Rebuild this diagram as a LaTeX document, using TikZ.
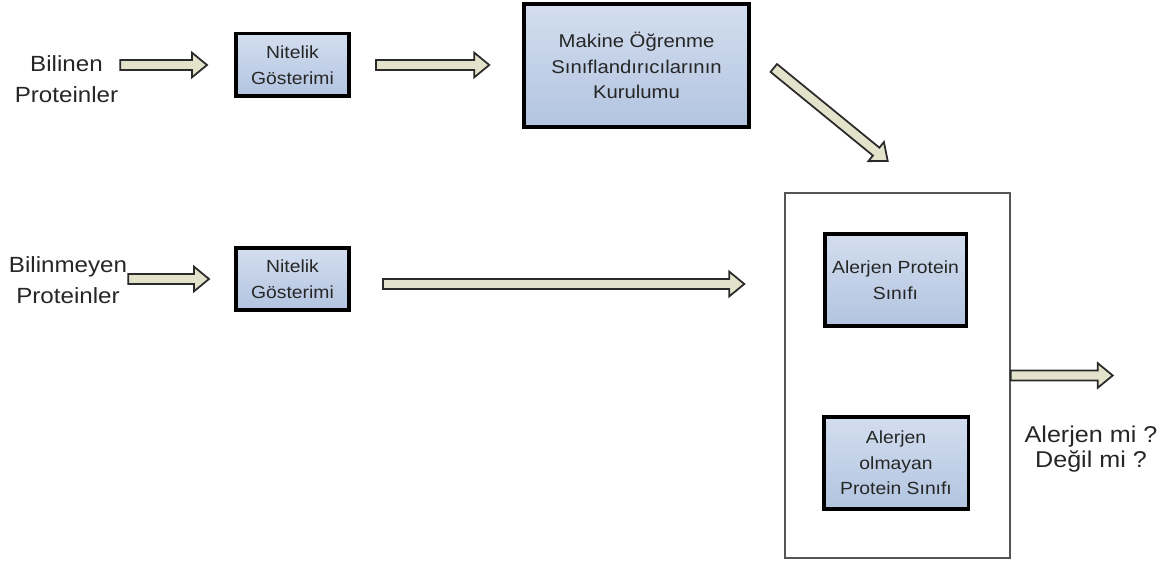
\documentclass[tikz,border=0pt]{standalone}
\usepackage{fontspec}
\setmainfont{Liberation Sans}[FakeStretch=1.1]
\usepackage{tikz}
\usetikzlibrary{arrows.meta, positioning, calc}

\definecolor{boxtop}{HTML}{D3DEEF}
\definecolor{boxbot}{HTML}{B2C4E0}
\definecolor{arrowfill}{HTML}{E3E3CC}
\definecolor{arrowline}{HTML}{2A2A2A}
\definecolor{frameline}{HTML}{555555}

\tikzset{
  stepbox/.style={draw=black, line width=2pt, top color=boxtop, bottom color=boxbot,
    align=center, inner sep=2pt, text=black!85, font=\fontsize{10}{14.5}\selectfont},
  sidelabel/.style={align=center, inner sep=1pt, text=black!85, font=\fontsize{12.5}{18}\selectfont},
  blockarrow/.style={draw=arrowline, fill=arrowfill, line width=1pt, line join=miter,
    to path={let \p1=(\tikztostart), \p2=(\tikztotarget),
      \n1={atan2(\y2-\y1,\x2-\x1)}, \n2={veclen(\x2-\x1,\y2-\y1)} in
      {[shift={(\p1)}, rotate=\n1]
        (0pt,-2.9pt) -- ({\n2*1pt-8.5pt},-2.9pt) -- ({\n2*1pt-8.5pt},-7pt) -- ({\n2*1pt},0pt)
        -- ({\n2*1pt-8.5pt},7pt) -- ({\n2*1pt-8.5pt},2.9pt) -- (0pt,2.9pt) -- cycle}}}
}

\begin{document}
\begin{tikzpicture}
\useasboundingbox (0,0) rectangle (23.5,-11.3);

% training row
\node[sidelabel] (known) at (1.33,-1.58) {Bilinen\\Proteinler};
\node[stepbox, minimum width=2.27cm, minimum height=1.25cm] (feat1) at (5.85,-1.3) {Nitelik\\Gösterimi};
\node[stepbox, minimum width=4.5cm, minimum height=2.46cm, font=\fontsize{10.5}{14.5}\selectfont]
  (train) at (12.73,-1.31) {Makine Öğrenme\\Sınıflandırıcılarının\\Kurulumu};

% test row
\node[sidelabel] (unknown) at (1.36,-5.6) {Bilinmeyen\\Proteinler};
\node[stepbox, minimum width=2.27cm, minimum height=1.25cm] (feat2) at (5.85,-5.58) {Nitelik\\Gösterimi};

% classifier
\node[draw=frameline, line width=0.8pt, minimum width=4.5cm, minimum height=7.3cm] (model) at (17.95,-7.51) {};
\node[stepbox, minimum width=2.83cm, minimum height=1.85cm] (allergen) at (17.91,-5.6) {Alerjen Protein\\Sınıfı};
\node[stepbox, minimum width=2.89cm, minimum height=1.85cm] (nonallergen) at (17.92,-9.26) {Alerjen\\olmayan\\Protein Sınıfı};
\node[align=center, text=black!85, font=\fontsize{13}{14.5}\selectfont] (answer) at (21.82,-8.98) {Alerjen mi ?\\Değil mi ?};
\coordinate (result) at ($(model.east)+(2.04,0)$);

\draw[blockarrow] (known.east |- feat1.west) to ([xshift=-0.54cm]feat1.west);
\draw[blockarrow] ([xshift=0.5cm]feat1.east) to ([xshift=-0.66cm]train.west |- feat1.east);
\draw[blockarrow] ([shift={(0.46cm,-0.05cm)}]train.east) to ([shift={(-0.19cm,0.62cm)}]model.north);
\draw[blockarrow] ([xshift=-0.02cm]unknown.east |- feat2.west) to ([xshift=-0.5cm]feat2.west);
\draw[blockarrow] ([shift={(0.64cm,-0.1cm)}]feat2.east) to ([shift={(-0.8cm,-0.1cm)}]model.west |- feat2.east);
\draw[blockarrow] (model.east) to (result);
\end{tikzpicture}
\end{document}
